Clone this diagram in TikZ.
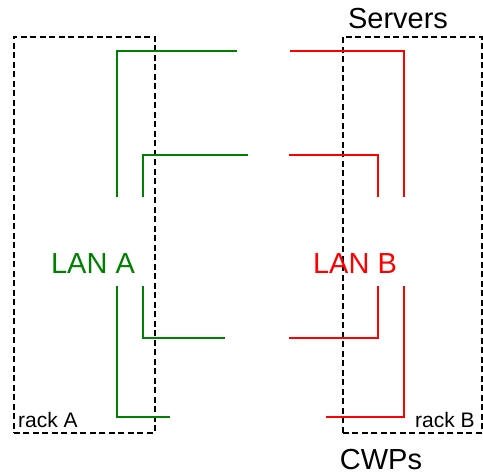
\documentclass[tikz,border=0pt]{standalone}
\usepackage{fontspec}
\setmainfont{Liberation Sans}
\begin{document}
\begin{tikzpicture}[x=1pt,y=-1pt,
  rack/.style={draw=black,line width=1.6pt,dash pattern=on 6pt off 3.5pt},
  lana/.style={draw=green!50!black,line width=2pt},
  lanb/.style={draw=red,line width=2pt},
  lbl/.style={inner sep=0pt,font=\fontsize{29}{31}\selectfont},
  small/.style={inner sep=0pt,font=\fontsize{21}{23}\selectfont}]
\useasboundingbox (0,0) rectangle (483,474);
% racks
\node[rack,minimum width=141pt,minimum height=396pt,anchor=north west,inner sep=0pt] (rackA) at (13,36) {};
\node[rack,minimum width=139pt,minimum height=396pt,anchor=north west,inner sep=0pt] (rackB) at (342,36) {};
% labels
\node[lbl,anchor=base] (servers) at (398,28) {Servers};
\node[lbl,anchor=base] (cwps) at (381,469) {CWPs};
\node[lbl,text=green!50!black,anchor=base] (lanA) at (93,273) {LAN A};
\node[lbl,text=red,anchor=base] (lanB) at (355,273) {LAN B};
\node[small,anchor=base west] (rackAl) at (18,427) {rack A};
\node[small,anchor=base west] (rackBl) at (415,427) {rack B};
% green coordinates
\coordinate (ga1) at (237,51); \coordinate (ga2) at (117,51); \coordinate (ga3) at (117,197);
\coordinate (gb1) at (248,155); \coordinate (gb2) at (143,155); \coordinate (gb3) at (143,197);
\coordinate (gc1) at (143,286); \coordinate (gc2) at (143,338); \coordinate (gc3) at (225,338);
\coordinate (gd1) at (117,286); \coordinate (gd2) at (117,417); \coordinate (gd3) at (170,417);
\draw[lana] (ga1) -- (ga2) -- (ga3);
\draw[lana] (gb1) -- (gb2) -- (gb3);
\draw[lana] (gc1) -- (gc2) -- (gc3);
\draw[lana] (gd1) -- (gd2) -- (gd3);
% red coordinates
\coordinate (ra1) at (290,51); \coordinate (ra2) at (404,51); \coordinate (ra3) at (404,197);
\coordinate (rb1) at (289,155); \coordinate (rb2) at (378,155); \coordinate (rb3) at (378,197);
\coordinate (rc1) at (378,286); \coordinate (rc2) at (378,338); \coordinate (rc3) at (289,338);
\coordinate (rd1) at (404,286); \coordinate (rd2) at (404,417); \coordinate (rd3) at (326,417);
\draw[lanb] (ra1) -- (ra2) -- (ra3);
\draw[lanb] (rb1) -- (rb2) -- (rb3);
\draw[lanb] (rc1) -- (rc2) -- (rc3);
\draw[lanb] (rd1) -- (rd2) -- (rd3);
\end{tikzpicture}
\end{document}
